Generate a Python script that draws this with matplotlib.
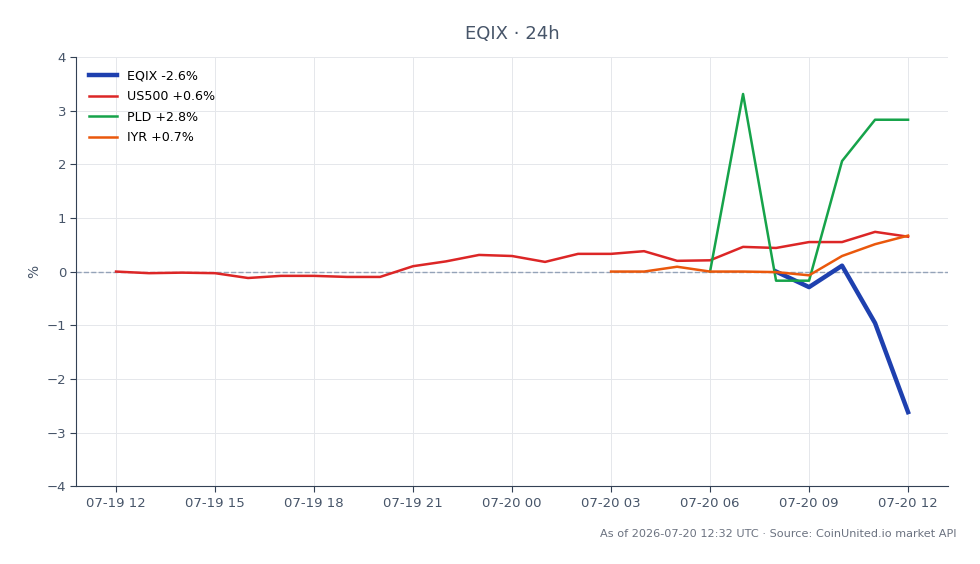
import matplotlib
matplotlib.use("Agg")
import numpy as np
import pandas as pd
import matplotlib.pyplot as plt
import matplotlib.dates as mdates

# hourly timestamps, 07-19 12:00 -> 07-20 12:00
times = pd.date_range("2026-07-19 12:00", "2026-07-20 12:00", freq="h")

us500 = [0.00, -0.03, -0.02, -0.03, -0.12, -0.08, -0.08, -0.10, -0.10, 0.10, 0.19, 0.31,
         0.29, 0.18, 0.33, 0.33, 0.38, 0.20, 0.21, 0.46, 0.44, 0.55, 0.55, 0.74, 0.65]
iyr = [0.00, 0.00, 0.09, 0.00, 0.00, -0.01, -0.07, 0.29, 0.51, 0.67]      # from 07-20 03
pld = [0.00, 3.31, -0.17, -0.17, 2.06, 2.83, 2.83]                        # from 07-20 06
eqix = [0.00, -0.29, 0.11, -0.96, -2.62]                                  # from 07-20 08

labels = ["EQIX -2.6%", "US500 +0.6%", "PLD +2.8%", "IYR +0.7%"]
colors = ["#1e40af", "#dc2626", "#16a34a", "#ea580c"]

text_col = "#475569"
spine_col = "#334155"

fig, ax = plt.subplots(figsize=(9.8, 5.64), dpi=100)
fig.subplots_adjust(left=0.078, right=0.967, top=0.899, bottom=0.138)

ax.plot(times[-len(eqix):], eqix, color=colors[0], lw=3.2, label=labels[0], zorder=3)
ax.plot(times, us500, color=colors[1], lw=1.8, label=labels[1], zorder=3)
ax.plot(times[-len(pld):], pld, color=colors[2], lw=1.8, label=labels[2], zorder=3)
ax.plot(times[-len(iyr):], iyr, color=colors[3], lw=1.8, label=labels[3], zorder=3)

ax.axhline(0, color="#94a3b8", lw=1, ls="--", zorder=2)

pad = pd.Timedelta(hours=1.2)
ax.set_xlim(times[0] - pad, times[-1] + pad)
ax.set_ylim(-4, 4)
ax.set_yticks(range(-4, 5))
ax.xaxis.set_major_locator(mdates.HourLocator(byhour=[0, 3, 6, 9, 12, 15, 18, 21]))
ax.xaxis.set_major_formatter(mdates.DateFormatter("%m-%d %H"))

ax.grid(True, color="#e5e7eb", lw=0.7)
ax.set_axisbelow(True)
for s in ["top", "right"]:
    ax.spines[s].set_visible(False)
for s in ["left", "bottom"]:
    ax.spines[s].set_color(spine_col)
ax.tick_params(colors=spine_col, labelcolor=text_col, labelsize=9.5, length=4)
ax.set_ylabel("%", color=text_col, fontsize=10)

ax.set_title("EQIX · 24h", color=text_col, fontsize=13, pad=13)
ax.legend(loc="upper left", frameon=False, fontsize=9.1, handlelength=2.2,
          handletextpad=0.8, labelspacing=0.6, borderaxespad=0.6)

fig.text(0.976, 0.054, "As of 2026-07-20 12:32 UTC · Source: CoinUnited.io market API",
         ha="right", va="center", fontsize=8.1, color="#6b7280")

fig.savefig("out.png", dpi=100)
